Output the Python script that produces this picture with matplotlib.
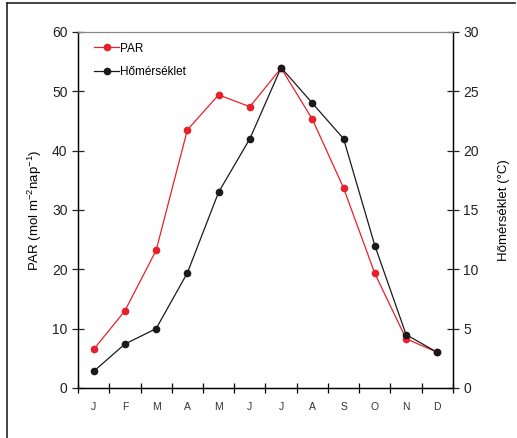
import matplotlib.pyplot as plt
from matplotlib.lines import Line2D

plt.rcParams['font.family'] = ['Liberation Sans', 'DejaVu Sans']
plt.rcParams['mathtext.default'] = 'regular'

months = ['J', 'F', 'M', 'A', 'M', 'J', 'J', 'A', 'S', 'O', 'N', 'D']
par = [6.5, 13.0, 23.2, 43.5, 49.4, 47.4, 53.9, 45.3, 33.7, 19.3, 8.3, 6.0]
temp = [1.4, 3.7, 5.0, 9.7, 16.5, 21.0, 27.0, 24.0, 21.0, 12.0, 4.5, 3.0]

fig = plt.figure(figsize=(5.17, 4.38), dpi=100)
ax = fig.add_axes([0.1509, 0.1142, 0.7252, 0.8128])
ax2 = ax.twinx()

x = list(range(len(months)))
l1, = ax.plot(x, par, '-o', color='#e8202a', lw=0.9, ms=4.5, label='PAR', zorder=3)
l2, = ax2.plot(x, temp, '-o', color='#1a1a1a', lw=0.9, ms=4.5, label='Hőmérséklet', zorder=3)

ax.set_xlim(-0.5, 11.5)
ax.set_ylim(0, 60)
ax2.set_ylim(0, 30)
ax.set_yticks(range(0, 61, 10))
ax2.set_yticks(range(0, 31, 5))
ax.set_xticks([i - 0.5 for i in range(13)])
ax.set_xticklabels([])
ax.set_xticks(x, minor=True)
ax.set_xticklabels(months, minor=True, fontsize=7.5, color='#333333')
ax.tick_params(axis='x', which='minor', length=0, pad=10)
ax.tick_params(axis='x', which='major', direction='inout', length=7, width=0.9)
ax.tick_params(axis='y', direction='inout', length=9, width=0.9, labelsize=10, pad=3, colors='#222222')
ax2.tick_params(axis='y', direction='inout', length=9, width=0.9, labelsize=10, pad=3, colors='#222222')

for a in (ax, ax2):
    a.spines['top'].set_color('#888888')
    a.spines['top'].set_linewidth(0.8)
    for s in ('left', 'right', 'bottom'):
        a.spines[s].set_linewidth(0.9)

ax.set_ylabel('PAR (mol m$^{-2}$nap$^{-1}$)', fontsize=9.5, labelpad=6)
ax2.set_ylabel('Hőmérséklet (°C)', fontsize=9.5, labelpad=14)

ax.legend([l1, l2], ['PAR', 'Hőmérséklet'], loc='upper left', frameon=False,
          fontsize=8.5, handlelength=2.1, handletextpad=0.1, labelspacing=0.95,
          borderaxespad=0.5, bbox_to_anchor=(0.015, 1.0))

# figure border (top and left only)
fig.add_artist(Line2D([7 / 517, 515 / 517], [1 - 2.5 / 438, 1 - 2.5 / 438], color='#222222', lw=1.2))
fig.add_artist(Line2D([7 / 517, 7 / 517], [1 - 2.5 / 438, 0], color='#222222', lw=1.2))

fig.savefig('out.png', dpi=100)
